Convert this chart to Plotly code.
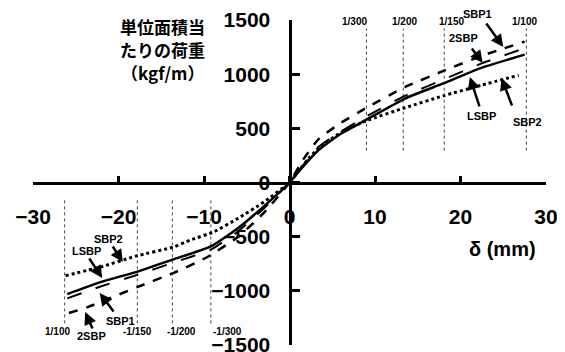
import plotly.graph_objects as go

# ---- data ----
x_2sbp = [-25.8, -23.6, -17.8, -13.6, -9.6, -6, -3, 0, 1.5, 3.4, 6, 9, 13.5, 18, 22.5, 27.5]
y_2sbp = [-1205, -1150, -965, -836, -688, -500, -280, 0, 200, 400, 550, 690, 880, 1030, 1170, 1300]

x_sbp1 = [-26, -22.1, -17.7, -13.6, -9.2, -6, -3, 0, 1.5, 3.4, 6, 9, 13.5, 18, 22.5, 27.5]
y_sbp1 = [-1070, -960, -850, -740, -620, -450, -240, 0, 150, 330, 470, 610, 800, 950, 1100, 1240]

x_lsbp = [-26, -22.1, -17.7, -13.6, -9.2, -6, -3, 0, 1.5, 3.4, 6, 9, 13.5, 18, 22.5, 27.5]
y_lsbp = [-1030, -920, -820, -710, -590, -420, -220, 0, 140, 300, 450, 580, 775, 915, 1060, 1180]

x_sbp2 = [-26.2, -22.1, -18, -13.6, -11.6, -8.9, -6, -3, 0, 1.5, 3.4, 6, 9, 13.5, 18, 22.5, 26.8]
y_sbp2 = [-860, -780, -680, -596, -531, -457, -330, -180, 0, 150, 320, 460, 570, 690, 800, 900, 990]

drift_pos_x = [9, 13.3, 18.1, 27.7]
drift_pos_labels = ["1/300", "1/200", "1/150", "1/100"]
drift_pos_label_x = [7.6, 13.5, 19.0, 27.5]
drift_neg_x = [-9.2, -13.7, -17.8, -26.3]
drift_neg_labels = ["-1/300", "-1/200", "-1/150", "1/100"]
drift_neg_label_x = [-7.2, -12.6, -17.8, -27.1]

x_ticks = [-30, -20, -10, 0, 10, 20, 30]
x_ticktext = ["−30", "−20", "−10", "0", "10", "20", "30"]
y_ticks = [-1500, -1000, -500, 0, 500, 1000, 1500]
y_ticktext = ["−1500", "−1000", "−500", "0", "500", "1000", "1500"]

y_title_lines = ["単位面積当", "たりの荷重", "（kgf/m）"]

# series labels: text position (+ pixel shift) and arrow (tail offset -> head)
lab_text = ["SBP1", "2SBP", "LSBP", "SBP2", "SBP2", "LSBP", "SBP1", "2SBP"]
lab_tx = [22.0, 20.3, 22.4, 27.8, -21.2, -23.8, -19.8, -23.1]
lab_ty = [1490, 1334, 614, 559, -522, -633, -1279, -1417]
lab_shift = [7, 0, 0, 0, 0, 0, 0, 0]
arr_hx = [25.0, 22.6, 21.1, 24.8, -19.5, -21.9, -22.2, -23.9]
arr_hy = [1251, 1103, 974, 965, -734, -882, -1020, -1196]
arr_ax = [-18, -12, 10, 11, -11, -14, 15, 8]
arr_ay = [-25, -16, 31, 29, -17, -21, 20, 18]

FONT = "Liberation Sans, Arial, sans-serif"
CJK = "Noto Sans CJK JP, sans-serif"

fig = go.Figure()

for xv in drift_pos_x:
    fig.add_trace(go.Scatter(x=[xv, xv], y=[294, 1422], mode="lines",
                             line=dict(color="#444", width=1, dash="dot"),
                             showlegend=False, hoverinfo="skip"))
for xv in drift_neg_x:
    fig.add_trace(go.Scatter(x=[xv, xv], y=[-165, -1303], mode="lines",
                             line=dict(color="#444", width=1, dash="dot"),
                             showlegend=False, hoverinfo="skip"))

series = [
    ("2SBP", x_2sbp, y_2sbp, "dash", 2.5),
    ("SBP1", x_sbp1, y_sbp1, "longdash", 2),
    ("LSBP", x_lsbp, y_lsbp, "solid", 2.5),
    ("SBP2", x_sbp2, y_sbp2, "dot", 3),
]
for name, xs, ys, dash, w in series:
    fig.add_trace(go.Scatter(x=xs, y=ys, mode="lines", name=name,
                             line=dict(color="black", width=w, dash=dash,
                                       shape="spline", smoothing=0.5),
                             showlegend=False))

ann = []
for xv, t in zip(drift_pos_label_x, drift_pos_labels):
    ann.append(dict(x=xv, y=1482, xref="x", yref="y", text=f"<b>{t}</b>", showarrow=False,
                    font=dict(family=FONT, size=10, color="black")))
for xv, t in zip(drift_neg_label_x, drift_neg_labels):
    ann.append(dict(x=xv, y=-1371, xref="x", yref="y", text=f"<b>{t}</b>", showarrow=False,
                    font=dict(family=FONT, size=10, color="black")))

for t, tx, ty, sh in zip(lab_text, lab_tx, lab_ty, lab_shift):
    ann.append(dict(x=tx, y=ty, xref="x", yref="y", yshift=sh, text=f"<b>{t}</b>",
                    showarrow=False, font=dict(family=FONT, size=11, color="black")))
for hx, hy, ax, ay in zip(arr_hx, arr_hy, arr_ax, arr_ay):
    ann.append(dict(x=hx, y=hy, xref="x", yref="y", text="", showarrow=True,
                    ax=ax, ay=ay, arrowhead=2, arrowsize=1, arrowwidth=2.5,
                    arrowcolor="black", standoff=0, startstandoff=0))

for line, py in zip(y_title_lines, [0.9815, 0.9077, 0.837]):
    ann.append(dict(x=0.2515, y=py, xref="paper", yref="paper", xanchor="center",
                    yanchor="middle", text=f"<b>{line}</b>", showarrow=False,
                    font=dict(family=CJK, size=17, color="black")))
ann.append(dict(x=0.916, y=0.295, xref="paper", yref="paper", xanchor="center", yanchor="middle",
                text="<b>δ (mm)</b>", showarrow=False,
                font=dict(family=FONT, size=20, color="black")))

# the page body has an 8px margin, so the figure is sized to fit the window
fig.update_layout(
    width=557, height=344,
    margin=dict(l=25, r=19, t=12, b=7, autoexpand=False),
    paper_bgcolor="white", plot_bgcolor="white",
    annotations=ann,
    xaxis=dict(range=[-30, 30], showgrid=False, zeroline=False, showline=True,
               linecolor="black", linewidth=3, anchor="free", position=0.5,
               automargin=False, ticklabeloverflow="allow",
               ticks="inside", ticklen=6, tickwidth=3, tickcolor="black",
               tickvals=x_ticks, ticktext=x_ticktext, ticklabelstandoff=14,
               tickfont=dict(family=FONT, size=21, color="black", weight="bold")),
    yaxis=dict(range=[-1500, 1500], showgrid=False, zeroline=False, showline=True,
               linecolor="black", linewidth=3, anchor="free", position=0.5, side="left",
               automargin=False, ticklabeloverflow="allow",
               ticks="inside", ticklen=8, tickwidth=3, tickcolor="black",
               tickvals=y_ticks, ticktext=y_ticktext, ticklabelstandoff=14,
               tickfont=dict(family=FONT, size=21, color="black", weight="bold")),
)

fig.write_html("out.html")
